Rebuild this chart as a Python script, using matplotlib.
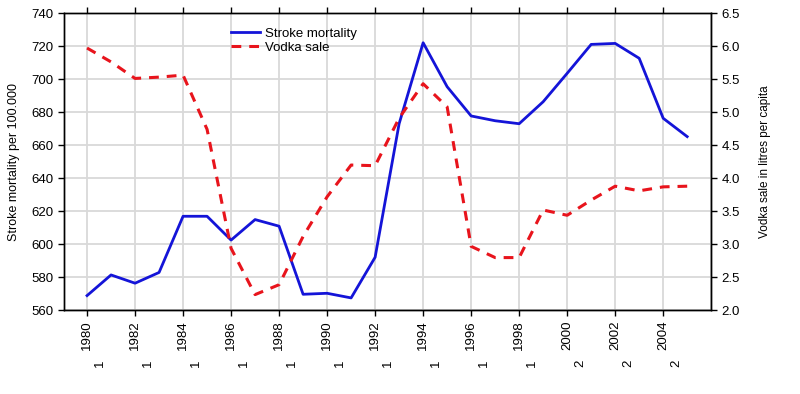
import matplotlib
matplotlib.use("Agg")
import matplotlib.pyplot as plt
import numpy as np

plt.rcParams['font.family'] = ['Liberation Sans', 'DejaVu Sans']

years = list(range(1980, 2006))
stroke = [569, 581.5, 576.5, 583, 617, 617, 602.6, 615, 611, 569.8, 570.4, 567.6, 592.2,
          673, 722, 695.4, 677.7, 674.8, 673, 686.3, 703.5, 721, 721.6, 712.6, 676.3, 665.2]
vodka = [5.97, 5.76, 5.51, 5.53, 5.56, 4.74, 2.94, 2.24, 2.39, 3.12, 3.72, 4.2, 4.19,
         4.91, 5.43, 5.08, 2.97, 2.80, 2.80, 3.52, 3.44, 3.67, 3.88, 3.81, 3.87, 3.88]
even_ticks = list(range(1980, 2005, 2))
odd_years = list(range(1981, 2006, 2))
odd_labels = ["1", "1", "1", "1", "1", "1", "1", "1", "1", "1", "2", "2", "2"]

fig = plt.figure(figsize=(8, 3.94), dpi=100)
ax = fig.add_axes([0.08, 0.212, 0.809, 0.755])
ax2 = ax.twinx()

grid_c = '#d9d9d9'
ax.set_xlim(1979.04, 2006)
ax.set_ylim(560, 740)
ax2.set_ylim(2.0, 6.5)
ax.set_yticks(np.arange(560, 741, 20))
ax2.set_yticks(np.arange(2.0, 6.51, 0.5))
ax2.set_yticklabels([f"{v:.1f}" for v in np.arange(2.0, 6.51, 0.5)])
ax.set_xticks(even_ticks)
ax.set_xticklabels([str(y) for y in even_ticks], rotation=90)

for y in np.arange(560, 741, 20):
    ax.axhline(y, color=grid_c, lw=1.3, zorder=0)
for x in even_ticks + [2006]:
    ax.axvline(x, color=grid_c, lw=1.3, zorder=0)

ax.tick_params(axis='both', direction='out', length=4, width=1, labelsize=9.5, colors='black')
ax.tick_params(axis='x', top=True, pad=3)
ax2.tick_params(axis='y', direction='out', length=4, width=1, labelsize=9.5)
for a in (ax, ax2):
    for s in a.spines.values():
        s.set_linewidth(1.0)

l1, = ax2.plot([], [], color='#1414d8', lw=2, label='Stroke mortality')
ax.plot(years, stroke, color='#1414d8', lw=2, zorder=3)
l2, = ax2.plot(years, vodka, color='#e8141c', lw=2.2, dashes=(3.2, 2.6), label='Vodka sale', zorder=3)

ax.set_ylabel('Stroke mortality per 100.000', fontsize=9, labelpad=8)
ax2.set_ylabel('Vodka sale in litres per capita', fontsize=8.5, labelpad=14)

for yr, lab in zip(odd_years, odd_labels):
    ax.text(yr - 0.45, -0.178, lab, transform=ax.get_xaxis_transform(), rotation=90,
            ha='center', va='center', fontsize=9.5)

leg = ax2.legend(handles=[l1, l2], loc='upper left', bbox_to_anchor=(0.243, 0.982), frameon=False,
                 fontsize=9.5, handlelength=2.2, labelspacing=0.12, handletextpad=0.45, borderaxespad=0.3)

fig.savefig('out.png', dpi=100)
